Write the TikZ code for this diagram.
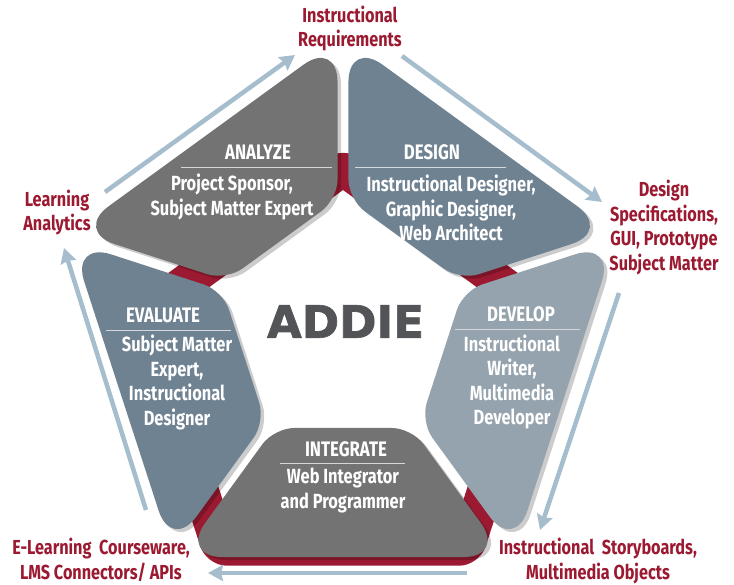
\documentclass[tikz,border=0pt]{standalone}
\usepackage{fontspec}
\setmainfont{Fira Sans}[FakeStretch=0.8]
\newfontfamily\bigfont{DejaVu Sans}[FakeBold=1.5]
\usetikzlibrary{arrows.meta,calc}
\definecolor{addiered}{HTML}{9C1A31}
\definecolor{seggray}{HTML}{737373}
\definecolor{segslate}{HTML}{6F8292}
\definecolor{seglight}{HTML}{95A3AE}
\definecolor{flowblue}{HTML}{A5BDCC}
\definecolor{addiegray}{HTML}{535458}
\definecolor{rulegray}{HTML}{D4D8DC}
\begin{document}
\begin{tikzpicture}[x=1pt,y=1pt,
  seg/.style={rounded corners=42pt},
  shade/.style={fill=black,opacity=0.2,transform canvas={shift={(3.5,-3)}}},
  title/.style={text=white,font=\bfseries\fontsize{21}{24}\selectfont,inner sep=0pt},
  body/.style={text=white,font=\bfseries\fontsize{20.5}{24.5}\selectfont,align=center,inner sep=0pt},
  outlabel/.style={text=addiered,font=\bfseries\fontsize{20.3}{24.5}\selectfont,align=center,inner sep=0pt},
  flow/.style={flowblue,line width=4.5pt,-{Stealth[length=15pt,width=16pt,inset=2pt]}}]

\useasboundingbox[fill=white] (0,0) rectangle (734,-584);

\coordinate (o) at (343,-324);  % middle of the segments
\coordinate (r) at (343,-378);  % middle of the red ring

% red ring
\fill[addiered,even odd rule,rounded corners=20pt]
  ($(r)+(90:232)$) -- ($(r)+(162:232)$) -- ($(r)+(234:232)$) -- ($(r)+(306:232)$) -- ($(r)+(18:232)$) -- cycle
  [sharp corners] ($(r)+(90:188)$) -- ($(r)+(162:188)$) -- ($(r)+(234:188)$) -- ($(r)+(306:188)$) -- ($(r)+(18:188)$) -- cycle;

% corners of the five segments
\coordinate (a1) at ($(o)+(160.9:284.1)$); \coordinate (a2) at ($(o)+(91.1:284.1)$);
\coordinate (a3) at ($(o)+(92.5:124.7)$);  \coordinate (a4) at ($(o)+(159.5:124.7)$);
\coordinate (d1) at ($(o)+(88.9:284.1)$);  \coordinate (d2) at ($(o)+(19.1:284.1)$);
\coordinate (d3) at ($(o)+(20.5:124.7)$);  \coordinate (d4) at ($(o)+(87.5:124.7)$);
\coordinate (v1) at ($(o)+(16.9:284.1)$);  \coordinate (v2) at ($(o)+(-52.9:284.1)$);
\coordinate (v3) at ($(o)+(-51.5:124.7)$); \coordinate (v4) at ($(o)+(15.5:124.7)$);
\coordinate (i1) at ($(o)+(-55.1:284.1)$); \coordinate (i2) at ($(o)+(-124.9:284.1)$);
\coordinate (i3) at ($(o)+(-123.5:124.7)$);\coordinate (i4) at ($(o)+(-56.5:124.7)$);
\coordinate (e1) at ($(o)+(232.9:284.1)$); \coordinate (e2) at ($(o)+(163.1:284.1)$);
\coordinate (e3) at ($(o)+(164.5:124.7)$); \coordinate (e4) at ($(o)+(231.5:124.7)$);

% shadows
\fill[shade] (a4) [seg] -- (a1) -- (a2) [rounded corners=20pt] -- (a3) -- cycle;
\fill[shade] (d4) [seg] -- (d1) -- (d2) [rounded corners=20pt] -- (d3) -- cycle;
\fill[shade] (v4) [seg] -- (v1) -- (v2) [rounded corners=20pt] -- (v3) -- cycle;
\fill[shade] (i4) [seg] -- (i1) -- (i2) [rounded corners=20pt] -- (i3) -- cycle;
\fill[shade] (e4) [seg] -- (e1) -- (e2) [rounded corners=20pt] -- (e3) -- cycle;

% segments
\fill[seggray]  (a4) [seg] -- (a1) -- (a2) [rounded corners=20pt] -- (a3) -- cycle;
\fill[segslate] (d4) [seg] -- (d1) -- (d2) [rounded corners=20pt] -- (d3) -- cycle;
\fill[seglight] (v4) [seg] -- (v1) -- (v2) [rounded corners=20pt] -- (v3) -- cycle;
\fill[seggray]  (i4) [seg] -- (i1) -- (i2) [rounded corners=20pt] -- (i3) -- cycle;
\fill[segslate] (e4) [seg] -- (e1) -- (e2) [rounded corners=20pt] -- (e3) -- cycle;

\node[text=addiegray,font=\bigfont\bfseries\fontsize{45}{45}\selectfont,inner sep=0pt] (addie) at (345.5,-321.5) {ADDIE};

% texts in the segments
\node[title] (an) at (258,-152) {ANALYZE};
\draw[rulegray,line width=1pt] (181,-167) -- (332,-167);
\node[body] (anb) at (232,-197) {Project Sponsor,\\Subject Matter Expert};

\node[title] (de) at (432,-152) {DESIGN};
\draw[rulegray,line width=1pt] (355,-167) -- (506,-167);
\node[body] (deb) at (451,-208) {Instructional Designer,\\Graphic Designer,\\Web Architect};

\node[title] (dv) at (521,-314) {DEVELOP};
\draw[rulegray,line width=1pt] (455,-329) -- (580,-329);
\node[body] (dvb) at (512,-382) {Instructional\\Writer,\\Multimedia\\Developer};

\node[title] (in) at (346,-449) {INTEGRATE};
\draw[rulegray,line width=1pt] (280,-463) -- (405,-463);
\node[body] (inb) at (343,-490.5) {Web Integrator\\and Programmer};

\node[title] (ev) at (163,-315) {EVALUATE};
\draw[rulegray,line width=1pt] (106,-330) -- (231,-330);
\node[body] (evb) at (177,-382.5) {Subject Matter\\Expert,\\Instructional\\Designer};

% outputs round the cycle
\node[outlabel] (req) at (350,-28.5) {Instructional\\Requirements};
\node[outlabel] (spec) at (664,-227.5) {Design\\Specifications,\\GUI, Prototype\\Subject Matter};
\node[outlabel] (story) at (598,-561) {Instructional~ Storyboards,\\Multimedia Objects};
\node[outlabel] (cw) at (101,-560) {E-Learning~ Courseware,\\LMS Connectors/ APIs};
\node[outlabel] (la) at (57,-212.5) {Learning\\Analytics};

\coordinate (f1a) at (105,-192); \coordinate (f1b) at (295,-55);
\coordinate (f2a) at (402,-56);  \coordinate (f2b) at (602,-202);
\coordinate (f3a) at (619,-293); \coordinate (f3b) at (540,-530);
\coordinate (f4a) at (467,-573); \coordinate (f4b) at (208,-573);
\coordinate (f5a) at (146,-510); \coordinate (f5b) at (64,-248);
\draw[flow] (f1a) -- (f1b);
\draw[flow] (f2a) -- (f2b);
\draw[flow] (f3a) -- (f3b);
\draw[flow] (f4a) -- (f4b);
\draw[flow] (f5a) -- (f5b);
\end{tikzpicture}
\end{document}
